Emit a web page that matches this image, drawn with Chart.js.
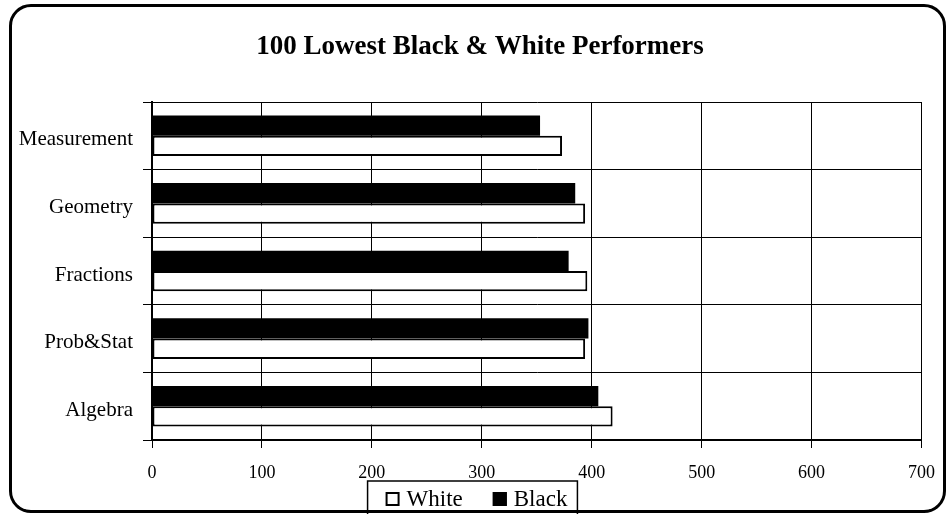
<!DOCTYPE html>
<html>
<head>
<meta charset="utf-8">
<script src="https://cdn.jsdelivr.net/npm/chart.js@4/dist/chart.umd.min.js"></script>
<style>
html,body{margin:0;padding:0;background:#fff;}
#wrap{position:relative;width:949px;height:514px;overflow:hidden;}
#frame{position:absolute;left:9px;top:4px;width:931px;height:503px;border:3px solid #000;border-radius:22px;}
canvas{position:absolute;left:0;top:0;}
</style>
</head>
<body>
<div id="wrap">
  <div id="frame"></div>
  <canvas id="c" width="949" height="514"></canvas>
</div>
<script>
const chartTitle = '100 Lowest Black & White Performers';
const categories = ['Measurement', 'Geometry', 'Fractions', 'Prob&Stat', 'Algebra'];
const whiteScores = [373, 394, 396, 394, 419];
const blackScores = [353, 385, 379, 397, 406];
const xTickValues = [0, 100, 200, 300, 400, 500, 600, 700];

const SERIF = "'Liberation Serif', 'Times New Roman', serif";

// let the category labels use the space left of the axis box (avoid clipping)
const widenLabelArea = {
  id: 'widenLabelArea',
  afterLayout(chart) { chart.scales.y.left = 0; }
};

const boxedLegend = {
  id: 'boxedLegend',
  afterDraw(chart) {
    const ctx = chart.ctx;
    const items = chart.data.datasets.slice().reverse();
    ctx.save();
    ctx.font = '23px ' + SERIF;
    const box = 14, gapBT = 7, gapItems = 30;
    const widths = items.map(d => box + gapBT + ctx.measureText(d.label).width);
    const total = widths.reduce((a, b) => a + b, 0) + gapItems * (items.length - 1);
    let x = chart.width / 2 - total / 2 + 2;
    const cy = 499;
    ctx.strokeStyle = '#000';
    ctx.lineWidth = 1.5;
    ctx.strokeRect(x - 18, 481, total + 28, 34);
    items.forEach((d, i) => {
      ctx.fillStyle = d.backgroundColor;
      ctx.fillRect(x, cy - box / 2, box, box);
      ctx.lineWidth = 2;
      ctx.strokeStyle = '#000';
      ctx.strokeRect(x + 1, cy - box / 2 + 1, box - 2, box - 2);
      ctx.fillStyle = '#000';
      ctx.textBaseline = 'middle';
      ctx.textAlign = 'left';
      ctx.fillText(d.label, x + box + gapBT, cy + 1);
      x += widths[i] + gapItems;
    });
    ctx.restore();
  }
};

new Chart(document.getElementById('c'), {
  type: 'bar',
  data: {
    labels: categories,
    datasets: [
      { label: 'Black', data: blackScores, backgroundColor: '#000000', borderColor: '#000000', borderWidth: 0 },
      { label: 'White', data: whiteScores, backgroundColor: '#ffffff', borderColor: '#000000', borderWidth: 2, borderSkipped: false }
    ]
  },
  options: {
    indexAxis: 'y',
    responsive: false,
    animation: false,
    categoryPercentage: 0.6,
    barPercentage: 1.0,
    layout: { padding: { left: 38, right: 27, top: 0, bottom: 0 } },
    plugins: {
      legend: { display: false },
      tooltip: { enabled: false },
      title: {
        display: true,
        text: chartTitle,
        color: '#000',
        font: { family: SERIF, size: 27, weight: 'bold' },
        padding: { top: 31, bottom: 38.6 }
      }
    },
    scales: {
      x: {
        type: 'linear',
        min: 0,
        max: 700,
        afterBuildTicks(scale) { scale.ticks = xTickValues.map(v => ({ value: v })); },
        afterFit(scale) { scale.height = 74; },
        ticks: { color: '#000', font: { family: SERIF, size: 18 }, padding: 14, maxRotation: 0 },
        grid: { color: '#000', lineWidth: 1, tickLength: 8, tickColor: '#000' },
        border: { display: true, color: '#000', width: 2 }
      },
      y: {
        afterFit(scale) { scale.width = 114; },
        ticks: { color: '#000', font: { family: SERIF, size: 21 }, padding: 10, labelOffset: 4 },
        grid: { color: '#000', lineWidth: 1, offset: true, tickLength: 9, tickColor: '#000' },
        border: { display: true, color: '#000', width: 2 }
      }
    }
  },
  plugins: [widenLabelArea, boxedLegend]
});
</script>
</body>
</html>
